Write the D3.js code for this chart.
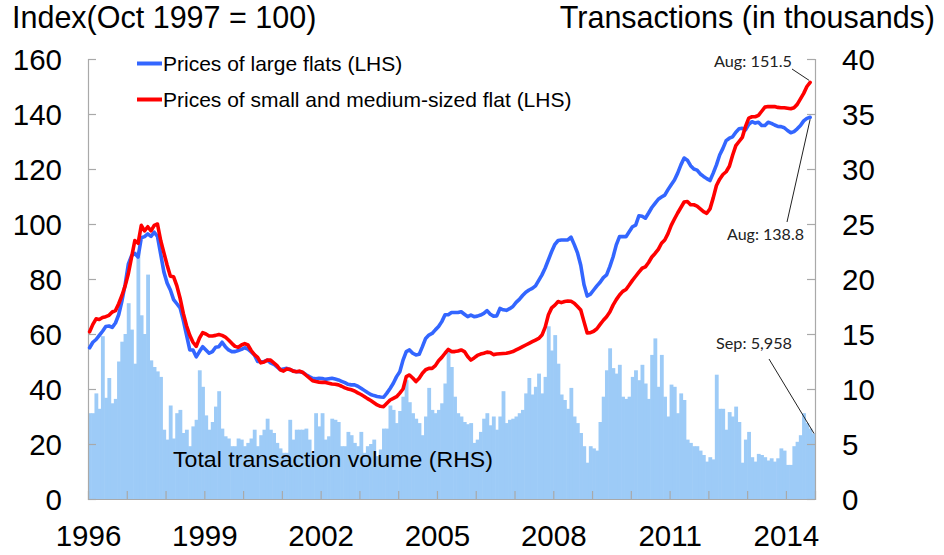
<!DOCTYPE html>
<html>
<head>
<meta charset="utf-8">
<script src="https://cdn.jsdelivr.net/npm/d3@7"></script>
<style>
  body { margin: 0; background: #fff; }
  svg { display: block; }
</style>
</head>
<body>
<svg id="chart" width="944" height="555"></svg>
<script>
// ---- Data (monthly, Jan 1996 onward) ----
const startYear = 1996;

// Price index of large flats (LHS), Jan 1996 – Aug 2014
const largeFlats = [
  55,57,58,59.5,61,62.7,62.9,62.4,64,67,
  72,78,85.5,88.5,89.3,88,95,95.4,96.4,95.5,
  97,95.5,89,82.5,78.5,76,72.5,71,69.5,65,
  59.6,54.2,54.2,51.7,53.6,55.4,54.2,53,53.6,55.2,
  55.4,57,55.4,54.2,53.6,53.6,54,54.4,55,54.5,
  53.5,52.4,50,49.9,50,50.5,49.5,49,48,47,
  47.3,47.5,47,46.6,46.3,46.3,46,45.2,44.5,43.9,
  43.7,43.9,43.8,43.5,43.7,43.9,43.6,43.3,42.8,42.3,
  41.7,41.5,41.5,41,40.3,39.5,38.7,38,37.6,37.3,
  37.1,37,38.5,40.2,42.1,44.5,46.3,50.5,53.6,54.2,
  53,52.4,52.6,55.4,58.4,59.6,60.2,61.5,62.7,64.5,
  67,67,67.8,67.8,67.8,68.1,67.2,66.3,66.9,66.3,
  66.5,66.9,67.5,68.5,67.2,66.5,66.6,69.3,68.8,68.6,
  69.2,70,71.5,72.6,74,75.2,76,76.6,77.5,79.5,
  81.5,84,87,90,92.6,94,94.2,94.2,94.2,95.2,
  92.5,89.5,85,78,73.8,74.5,76,77.5,78.8,80.5,
  81.5,84.5,88,92.4,95.4,95.4,95.4,97.2,99,99.6,
  103,102.8,102.1,104,106,107.5,109,109.8,110.5,112.5,
  114.3,116,118.5,121.5,124,123.2,121.2,120,119.6,118.2,
  117.3,116.5,115.8,118.5,121.5,125.1,127.5,130.3,131.2,131.7,
  133.4,134.6,134.8,134.2,136.2,137.2,136.7,137,135.8,135.8,
  137,136.6,136,135.5,135.4,135,134,133.2,133.6,134.6,
  135.8,137.5,138.4,138.8
];

// Price index of small and medium-sized flats (LHS), Jan 1996 – Aug 2014
const smallMedFlats = [
  60.8,63.5,65.5,65.3,66,66.3,66.8,68,68.5,71,
  74,77.5,82,88,94,93,99.5,97.5,99,97.5,
  99.5,100,94,89.5,85,81,80.8,77.5,73,67.5,
  63,59.5,57,55.5,58.5,60.5,60,59.3,59.3,59.5,
  59.8,59.5,58.9,57.8,56.6,55.5,55.2,56,56.5,56,
  54,52.5,51.5,49.5,49.8,50.5,50.5,49.5,48.5,47,
  46.5,47.3,47.2,46.5,46.3,46.5,46,45,44,43,
  42.7,42.5,42.4,42.4,42.1,41.8,41.7,41.5,41,40.4,
  40,39.7,39.3,38.6,38,37.3,36.5,35.8,35,34.2,
  33.7,33.6,34.8,36,36.6,37.2,38.5,40,44.5,45.1,
  44,42.7,43.9,45.7,47,47.5,47.5,48.5,50.3,51.5,
  53,54.4,53.6,53.6,53.8,54.2,53.6,51.8,50.5,51.3,
  52.2,52.7,53,53.4,53.3,52.5,52.7,52.8,52.9,53,
  53.3,53.6,54.2,54.8,55.4,56,56.6,57.2,57.8,58.4,
  59.6,62.5,67,69.5,70.5,71.8,71.4,71.8,72,71.9,
  71.2,70,68.7,64.5,60.4,60.5,61,61.9,63.5,65,
  66.3,68,70.5,72.5,74.2,75.5,76.2,77.8,79.5,81,
  82.5,83.9,84.4,86,88,89.3,90.8,93,94.2,96.5,
  99.5,101.8,104,106,108,108.2,107,107,106.5,105.5,
  104.5,103.9,105.5,109.5,114,116.3,118,119,121,125,
  128.5,130,131.5,135.5,138.5,139,139,139.5,141,142.5,
  142.7,142.7,142.7,142.4,142.3,142.3,142.1,141.9,142.3,143.5,
  145.5,147.5,150,151.5
];

// Total transaction volume, thousands (RHS), Jan 1996 – Sep 2014
const volume = [
  7.8,7.8,9.6,8.2,14.8,9.2,11,8.7,9.1,12.5,
  14.3,15,17.8,15.4,12.3,22.5,16.7,15,20.4,12.6,
  12,11.6,11.1,6.3,5.4,8.5,5.5,7.8,8.1,6,
  6.3,4.8,6.6,7.2,11.7,10.2,7.6,6.3,7,8.4,
  9.8,6.4,5.7,5.5,4.8,4.8,5.5,5.4,4.8,5.1,
  5.5,6.3,4.8,5.8,6.3,7.3,6.3,6,5.1,4.6,
  4.2,4.2,7.2,5.4,6.3,6.3,6.3,6.4,5.4,4.2,
  7.8,6.6,7.8,5.4,5.7,7.3,7.2,7,4.8,4.8,
  6.1,5.8,5.1,4.8,6.1,4.2,4.8,5,5.4,3.9,
  4.5,6.4,6.4,8.5,8.1,6.9,8,9.3,10.8,8.8,
  7.8,7.3,6.9,5.8,7.5,10.1,8.1,7.8,8.1,8.7,
  10.5,13.5,12,9.3,7.8,7.5,7,6.8,6.9,5.1,
  5.4,6.1,7.3,7.8,6.7,7.5,6.3,7.5,9.8,6.9,
  7.2,7.3,7.5,7.8,8.1,9.6,11,9.5,10.2,11.4,
  9.6,11.1,15.7,13.5,14.9,12.3,9.5,9,8.2,10.1,
  7.5,6.9,6,4.8,3.3,4.8,4.6,4.4,7,9.3,
  11.7,13.7,11.9,11.4,12.2,9.3,9.1,9.3,11.1,11.7,
  10.8,12.2,10.5,9.1,13.1,14.6,10.2,13.1,9.3,7.5,
  10.4,10.2,7.8,9.6,9,5.4,5.1,4.8,4.8,4.4,
  4,3.4,3.8,3.6,11.3,8.2,8.2,6.3,7.9,7.5,
  8.4,7,3.3,5.4,6.1,3.8,3.4,4.1,4,3.8,
  3.5,3.7,3.4,3.7,4.6,4.4,3.1,3.1,4.8,5.2,
  5.8,7.8,6.9,6.4,5.958
];

const yearLabels = [1996, 1999, 2002, 2005, 2008, 2011, 2014];
const leftTicks = [0, 20, 40, 60, 80, 100, 120, 140, 160];
const rightTicks = [0, 5, 10, 15, 20, 25, 30, 35, 40];

const legendItems = [
  { label: "Prices of large flats (LHS)", color: "#3366FF" },
  { label: "Prices of small and medium-sized flat (LHS)", color: "#FF0000" }
];

// ---- Layout ----
const svg = d3.select("#chart");
const L = 88, R = 815, T = 59, B = 499;
const FONT = "'Liberation Sans', Arial, Helvetica, sans-serif";
const ANN_FONT = "Lato, 'Open Sans', sans-serif";
const AXIS_COLOR = "#A9A9A9";

const nMonths = volume.length;
const xBand = d3.scaleBand().domain(d3.range(nMonths)).range([L, R]).padding(0);
const xMonth = d3.scaleLinear().domain([0, nMonths]).range([L, R]);
const yL = d3.scaleLinear().domain([0, 160]).range([B, T]);
const yR = d3.scaleLinear().domain([0, 40]).range([B, T]);

// ---- Bars ----
svg.append("g")
  .selectAll("rect")
  .data(volume)
  .join("rect")
  .attr("x", (d, i) => xBand(i))
  .attr("y", d => yR(d))
  .attr("width", xBand.bandwidth() + 0.6)
  .attr("height", d => B - yR(d))
  .attr("fill", "#9DCBF7");

// ---- Axes ----
const yearTicks = d3.range(1, Math.floor(nMonths / 12) + 1).map(k => k * 12);

const gx = svg.append("g").attr("transform", `translate(0,${B})`)
  .call(d3.axisBottom(xMonth).tickValues(yearTicks).tickSize(-8).tickFormat(""));
gx.select(".domain").attr("stroke", AXIS_COLOR).attr("stroke-width", 1.2);
gx.selectAll(".tick line").attr("stroke", AXIS_COLOR).attr("stroke-width", 1.2);

const gxl = svg.append("g").attr("transform", `translate(0,${B})`)
  .call(d3.axisBottom(xMonth)
    .tickValues(yearLabels.map(y => (y - startYear) * 12))
    .tickSize(0)
    .tickFormat(v => String(startYear + v / 12)));
gxl.select(".domain").remove();
gxl.selectAll("text")
  .attr("y", 47).attr("dy", 0)
  .attr("font-family", FONT).attr("font-size", 29.5).attr("fill", "#000");

const gl = svg.append("g").attr("transform", `translate(${L},0)`)
  .call(d3.axisLeft(yL).tickValues(leftTicks).tickSize(-8).tickPadding(26));
gl.select(".domain").attr("stroke", AXIS_COLOR).attr("stroke-width", 1.2);
gl.selectAll(".tick line").attr("stroke", AXIS_COLOR).attr("stroke-width", 1.2);
gl.selectAll("text").attr("font-family", FONT).attr("font-size", 29.5).attr("fill", "#000").attr("dy", "0.36em");

const gr = svg.append("g").attr("transform", `translate(${R},0)`)
  .call(d3.axisRight(yR).tickValues(rightTicks).tickSize(-8).tickPadding(27));
gr.select(".domain").attr("stroke", AXIS_COLOR).attr("stroke-width", 1.2);
gr.selectAll(".tick line").attr("stroke", AXIS_COLOR).attr("stroke-width", 1.2);
gr.selectAll("text").attr("font-family", FONT).attr("font-size", 29.5).attr("fill", "#000").attr("dy", "0.36em");

// ---- Lines ----
const line = d3.line().x((d, i) => xBand(i) + xBand.bandwidth() / 2).y(d => yL(d));
svg.append("path").datum(largeFlats)
  .attr("d", line).attr("fill", "none")
  .attr("stroke", legendItems[0].color).attr("stroke-width", 3.6)
  .attr("stroke-linejoin", "round").attr("stroke-linecap", "round");
svg.append("path").datum(smallMedFlats)
  .attr("d", line).attr("fill", "none")
  .attr("stroke", legendItems[1].color).attr("stroke-width", 3.6)
  .attr("stroke-linejoin", "round").attr("stroke-linecap", "round");

// ---- Titles ----
svg.append("text").attr("x", 12).attr("y", 28)
  .attr("font-family", FONT).attr("font-size", 30.5).attr("fill", "#000")
  .text("Index(Oct 1997 = 100)");
svg.append("text").attr("x", 935).attr("y", 28).attr("text-anchor", "end")
  .attr("font-family", FONT).attr("font-size", 30.5).attr("fill", "#000")
  .text("Transactions (in thousands)");

// ---- Legend ----
const legY = [63.5, 99.5];
legendItems.forEach((it, k) => {
  svg.append("line")
    .attr("x1", 137).attr("x2", 162).attr("y1", legY[k]).attr("y2", legY[k])
    .attr("stroke", it.color).attr("stroke-width", 4);
  svg.append("text").attr("x", 163).attr("y", legY[k] + 7.6)
    .attr("font-family", FONT).attr("font-size", 21).attr("fill", "#000")
    .text(it.label);
});

// ---- Series label ----
svg.append("text").attr("x", 173).attr("y", 467)
  .attr("font-family", FONT).attr("font-size", 22.5).attr("fill", "#000")
  .attr("textLength", 320).attr("lengthAdjust", "spacingAndGlyphs")
  .text("Total transaction volume (RHS)");

// ---- Annotations ----
const lastP = smallMedFlats.length - 1;
const lastV = volume.length - 1;
const lineEndX = xBand(lastP) + xBand.bandwidth() / 2;
const barEndX = xBand(lastV) + xBand.bandwidth();
const annotations = [
  { text: "Aug: " + smallMedFlats[lastP].toFixed(1), tx: 714, ty: 67, w: 78,
    lx1: 792, ly1: 69, lx2: lineEndX - 1, ly2: yL(smallMedFlats[lastP]) - 2 },
  { text: "Aug: " + largeFlats[lastP].toFixed(1), tx: 727, ty: 240, w: 77,
    lx1: 787, ly1: 222, lx2: lineEndX, ly2: yL(largeFlats[lastP]) + 2 },
  { text: "Sep: " + d3.format(",")(Math.round(volume[lastV] * 1000)), tx: 716, ty: 349, w: 76,
    lx1: 769, ly1: 359, lx2: barEndX - 1, ly2: yR(volume[lastV]) }
];
annotations.forEach(a => {
  svg.append("line")
    .attr("x1", a.lx1).attr("y1", a.ly1).attr("x2", a.lx2).attr("y2", a.ly2)
    .attr("stroke", "#222").attr("stroke-width", 1);
  svg.append("text").attr("x", a.tx).attr("y", a.ty)
    .attr("font-family", ANN_FONT).attr("font-size", 16).attr("fill", "#222")
    .attr("textLength", a.w).attr("lengthAdjust", "spacingAndGlyphs")
    .text(a.text);
});
</script>
</body>
</html>
